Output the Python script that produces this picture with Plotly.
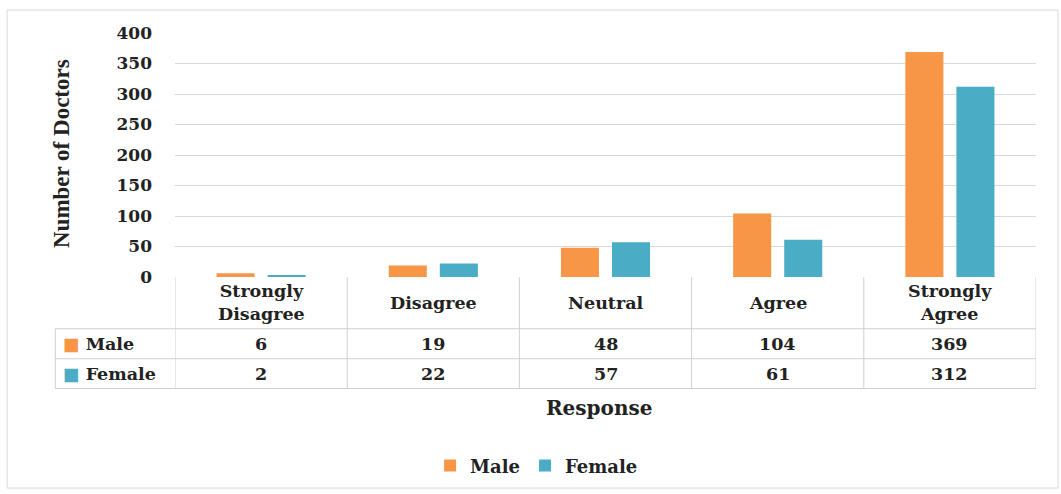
import plotly.graph_objects as go

categories = ["Strongly<br>Disagree", "Disagree", "Neutral", "Agree", "Strongly<br>Agree"]
male = [6, 19, 48, 104, 369]
female = [2, 22, 57, 61, 312]
series_names = ["Male", "Female"]
colors = ["#F79646", "#4BACC6"]
y_ticks = [0, 50, 100, 150, 200, 250, 300, 350, 400]

FONT = "DejaVu Serif"
x_idx = list(range(len(categories)))

fig = go.Figure()
for name, vals, col in zip(series_names, [male, female], colors):
    fig.add_trace(go.Bar(x=x_idx, y=vals, name=name, marker_color=col,
                         marker_line_width=0))

grid = "#d9d9d9"
tab = "#d0d0d0"
y_hdr, y_m, y_f = -0.212, -0.335, -0.457
left_tab = -0.139

shapes = []
shapes.append(dict(type="rect", xref="paper", yref="paper", x0=-0.195, x1=1.0256,
                   y0=-0.865, y1=1.094, line=dict(color=grid, width=1)))
for yy in [y_hdr, y_m, y_f]:
    shapes.append(dict(type="line", xref="paper", yref="paper", x0=left_tab, x1=1.0,
                       y0=yy, y1=yy, line=dict(color=tab, width=1)))
for k in range(len(categories) + 1):
    shapes.append(dict(type="line", xref="x", yref="paper", x0=k - 0.5, x1=k - 0.5,
                       y0=0, y1=y_f, line=dict(color=tab, width=1)))
shapes.append(dict(type="line", xref="paper", yref="paper", x0=left_tab, x1=left_tab,
                   y0=y_hdr, y1=y_f, line=dict(color=tab, width=1)))

annotations = []
tfont = dict(family=FONT, size=17.5, color="#222222", weight="bold")
for i, c in enumerate(categories):
    annotations.append(dict(x=i, y=(0 + y_hdr) / 2, xref="x", yref="paper", text=c,
                            showarrow=False, font=tfont, xanchor="center", yanchor="middle"))
    annotations.append(dict(x=i, y=(y_hdr + y_m) / 2, xref="x", yref="paper", text=str(male[i]),
                            showarrow=False, font=tfont, xanchor="center", yanchor="middle"))
    annotations.append(dict(x=i, y=(y_m + y_f) / 2, xref="x", yref="paper", text=str(female[i]),
                            showarrow=False, font=tfont, xanchor="center", yanchor="middle"))
for name, col, yy in zip(series_names, colors, [(y_hdr + y_m) / 2, (y_m + y_f) / 2]):
    annotations.append(dict(x=left_tab + 0.007, y=yy, xref="paper", yref="paper",
                            text=f"<span style='color:{col}'>■</span> {name}",
                            showarrow=False, font=tfont, xanchor="left", yanchor="middle"))
annotations.append(dict(x=0.493, y=-0.535, xref="paper", yref="paper", text="Response",
                        showarrow=False, font=dict(family=FONT, size=20, color="#222222", weight="bold"),
                        xanchor="center", yanchor="middle"))
annotations.append(dict(x=-0.131, y=0.505, xref="paper", yref="paper", text="Number of Doctors",
                        textangle=-90, showarrow=False,
                        font=dict(family="Liberation Serif", size=23, color="#222222", weight="bold"),
                        xanchor="center", yanchor="middle"))

fig.update_layout(
    width=1061, height=494,
    margin=dict(l=175, r=25, t=33, b=216),
    paper_bgcolor="white", plot_bgcolor="white",
    barmode="group", bargap=0.407, bargroupgap=0.255,
    font=dict(family=FONT, size=15, color="#222222", weight="bold"),
    xaxis=dict(range=[-0.5, 4.5], showticklabels=False, showgrid=False, zeroline=False,
               showline=False, ticks=""),
    yaxis=dict(range=[0, 400], tickvals=y_ticks, showgrid=True, gridcolor=grid, gridwidth=1,
               zeroline=False, showline=False, ticks="", ticklabelstandoff=22,
               tickfont=dict(family=FONT, size=17, color="#222222", weight="bold")),
    showlegend=True,
    legend=dict(orientation="h", x=0.42, y=-0.767, xanchor="center", yanchor="middle",
                font=dict(family=FONT, size=18, color="#222222", weight="bold"),
                itemwidth=30, traceorder="normal"),
    shapes=shapes, annotations=annotations,
)

fig.write_html("out.html")
